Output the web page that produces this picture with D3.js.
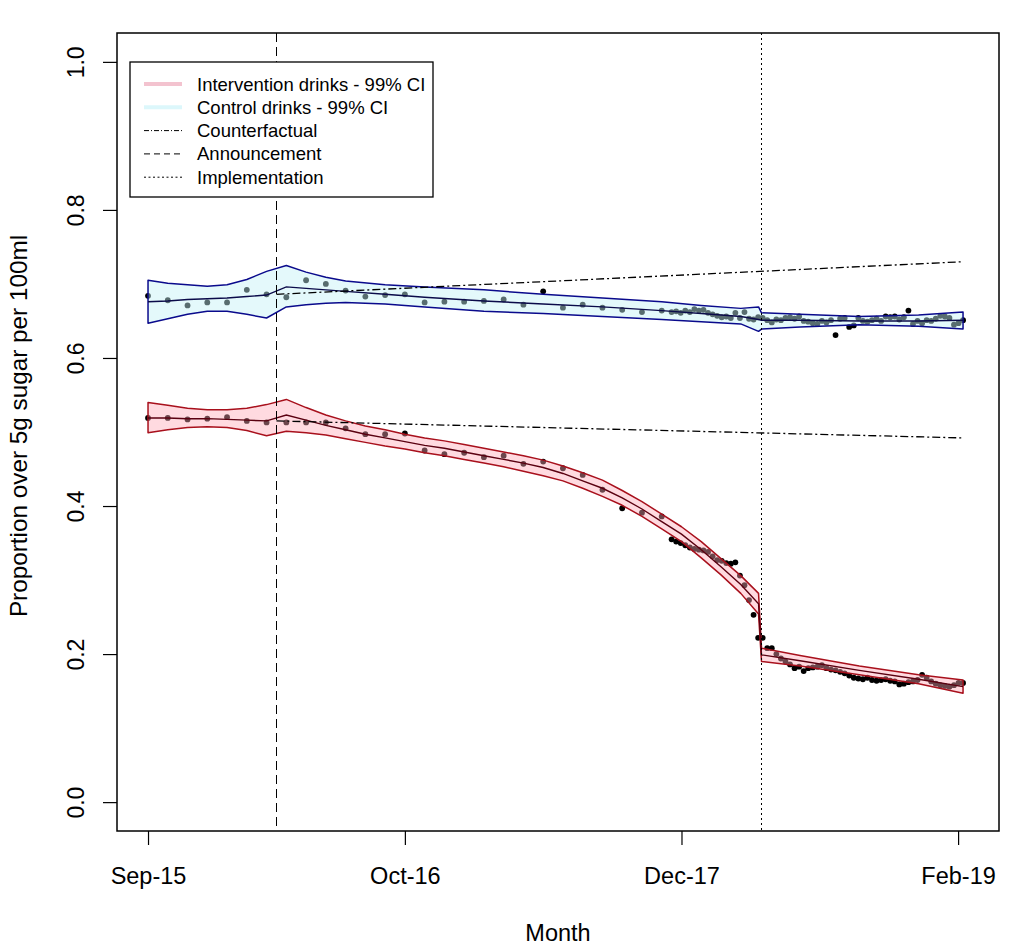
<!DOCTYPE html>
<html>
<head>
<meta charset="utf-8">
<script src="https://cdn.jsdelivr.net/npm/d3@7"></script>
<style>
  html, body { margin: 0; padding: 0; background: #fff; }
  svg { display: block; }
  text { font-family: "Liberation Sans", Arial, sans-serif; fill: #000; }
</style>
</head>
<body>
<svg id="chart" width="1024" height="950"></svg>
<script>
// ---------------- DATA ----------------
// time is expressed in months since Sep-2015
const xTickPos = [0, 13, 27, 41];
const xTickLabels = ["Sep-15", "Oct-16", "Dec-17", "Feb-19"];
const yTicks = [0.0, 0.2, 0.4, 0.6, 0.8, 1.0];

const announcementMonth = 6.48;
const implementationMonth = 31.03;

// monthly observations (Sep-15 .. Nov-17)
const monthlyTimes = d3.range(0, 27);
const ctrlMonthly = [0.684, 0.678, 0.671, 0.675, 0.675, 0.692, 0.686, 0.682, 0.705, 0.700,
  0.691, 0.683, 0.685, 0.686, 0.675, 0.676, 0.676, 0.677, 0.679, 0.672,
  0.690, 0.668, 0.672, 0.668, 0.665, 0.662, 0.664];
const intMonthly = [0.519, 0.519, 0.517, 0.518, 0.520, 0.515, 0.513, 0.513, 0.513, 0.513,
  0.505, 0.497, 0.497, 0.498, 0.475, 0.470, 0.472, 0.466, 0.468, 0.457,
  0.460, 0.451, 0.442, 0.422, 0.397, 0.391, 0.386];

// weekly observations (from mid-Nov-17 onwards)
const weeklyStart = 26.5, weeklyStep = 0.2305;
const ctrlWeekly = [0.662, 0.663, 0.661, 0.664, 0.662, 0.666, 0.664, 0.665, 0.661, 0.659,
  0.657, 0.655, 0.656, 0.654, 0.661, 0.654, 0.662, 0.653, 0.652, 0.655,
  0.654, 0.651, 0.648, 0.652, 0.651, 0.654, 0.655, 0.653, 0.656, 0.650,
  0.649, 0.647, 0.646, 0.650, 0.648, 0.651, 0.631, 0.653, 0.654, 0.642,
  0.644, 0.654, 0.650, 0.649, 0.651, 0.653, 0.650, 0.656, 0.655, 0.656,
  0.652, 0.655, 0.664, 0.646, 0.650, 0.647, 0.651, 0.650, 0.653, 0.657,
  0.656, 0.654, 0.645, 0.647, 0.651];
const intWeekly = [0.355, 0.352, 0.350, 0.347, 0.344, 0.342, 0.341, 0.340, 0.338, 0.332,
  0.327, 0.326, 0.323, 0.322, 0.324, 0.306, 0.293, 0.273, 0.253, 0.222,
  0.222, 0.208, 0.208, 0.200, 0.194, 0.190, 0.186, 0.181, 0.183, 0.177,
  0.181, 0.182, 0.183, 0.185, 0.181, 0.179, 0.178, 0.176, 0.174, 0.171,
  0.168, 0.167, 0.166, 0.168, 0.165, 0.164, 0.165, 0.166, 0.164, 0.163,
  0.159, 0.160, 0.162, 0.163, 0.165, 0.172, 0.168, 0.163, 0.160, 0.158,
  0.157, 0.156, 0.158, 0.161, 0.161];

// fitted model and 99% CI at knot times
const knotT   = [0, 1, 2, 3, 4, 5, 6, 7, 8, 9, 10, 12, 14, 17, 20, 23, 26, 28, 30, 30.9, 31.05, 33, 36, 39, 41.25];
const ctrlFit = [.676,.677,.679,.680,.681,.683,.685,.696,.694,.692,.690,.686,.682,.677,.673,.669,.664,.660,.656,.652,.651,.651,.650,.650,.651];
const ctrlLo  = [.647,.653,.659,.663,.663,.659,.654,.669,.672,.674,.675,.673,.669,.663,.660,.656,.652,.649,.646,.636,.639,.642,.645,.643,.639];
const ctrlHi  = [.705,.701,.699,.697,.699,.706,.717,.725,.716,.709,.704,.699,.696,.692,.686,.681,.676,.671,.667,.669,.661,.659,.656,.658,.662];

const intKnotT = [0, 1, 2, 3, 4, 5, 6, 7, 8, 9, 10, 11, 12, 13, 14, 15, 16, 17, 18, 19, 20, 21, 22, 23, 24, 25, 26, 27, 28, 29, 30, 30.9, 31.05, 33, 36, 39, 41.25];
const intFit = [.519,.519,.518,.518,.517,.516,.515,.523,.516,.509,.503,.497,.492,.487,.482,.478,.473,.468,.463,.458,.452,.444,.434,.424,.411,.396,.379,.362,.341,.318,.294,.268,.199,.191,.178,.166,.156];
const intLo  = [.499,.503,.506,.507,.506,.502,.495,.501,.499,.496,.491,.486,.481,.477,.472,.468,.463,.458,.453,.447,.441,.434,.424,.413,.401,.386,.369,.352,.330,.307,.282,.254,.190,.184,.172,.160,.147];
const intHi  = [.540,.536,.532,.530,.530,.532,.537,.544,.533,.523,.515,.508,.503,.497,.492,.488,.483,.478,.473,.468,.462,.454,.445,.435,.421,.406,.389,.372,.352,.329,.306,.282,.208,.198,.184,.172,.165];

// counterfactual trends (start at announcement, end at last observation)
const cfT = [6.5, 41.25];
const ctrlCF = [0.686, 0.730];
const intCF = [0.515, 0.492];

const legendLabels = ["Intervention drinks - 99% CI", "Control drinks - 99% CI", "Counterfactual", "Announcement", "Implementation"];

// ---------------- CHART ----------------
const svg = d3.select("#chart");
const L = 117, R = 999, T = 33, B = 831;
const x = d3.scaleLinear().domain([-1.57, 43.07]).range([L, R]);
const y = d3.scaleLinear().domain([-0.039, 1.039]).range([B, T]);

const weeklyTimes = d3.range(ctrlWeekly.length).map(i => weeklyStart + i * weeklyStep);
const obs = (times, vals) => times.map((t, i) => ({t, v: vals[i]}));
const ctrlObs = obs(monthlyTimes, ctrlMonthly).concat(obs(weeklyTimes, ctrlWeekly));
const intObs = obs(monthlyTimes, intMonthly).concat(obs(weeklyTimes, intWeekly));

const g = svg.append("g");

// points (black, later partly covered by translucent bands)
[ctrlObs, intObs].forEach(data => {
  g.append("g").selectAll("circle").data(data).join("circle")
    .attr("cx", d => x(d.t)).attr("cy", d => y(d.v)).attr("r", 2.9)
    .attr("fill", "#000");
});

function band(ts, lo, hi, fill, opacity, stroke) {
  const data = ts.map((t, i) => ({t, lo: lo[i], hi: hi[i]}));
  const area = d3.area().x(d => x(d.t)).y0(d => y(d.lo)).y1(d => y(d.hi));
  g.append("path").datum(data).attr("d", area)
    .attr("fill", fill).attr("fill-opacity", opacity)
    .attr("stroke", stroke).attr("stroke-width", 1.5).attr("stroke-linejoin", "round");
}
function line(ts, vals, stroke, width, dash) {
  const data = ts.map((t, i) => ({t, v: vals[i]}));
  const p = g.append("path").datum(data)
    .attr("d", d3.line().x(d => x(d.t)).y(d => y(d.v)))
    .attr("fill", "none").attr("stroke", stroke).attr("stroke-width", width);
  if (dash) p.attr("stroke-dasharray", dash);
}

band(knotT, ctrlLo, ctrlHi, "#c4f1f7", 0.45, "#0a0a8c");
line(knotT, ctrlFit, "#0b0b4a", 1.4);
band(intKnotT, intLo, intHi, "#ffa6b6", 0.42, "#a8101c");
line(intKnotT, intFit, "#5a0010", 1.4);

// counterfactuals
line(cfT, ctrlCF, "#000", 1.3, "8,3,2,3");
line(cfT, intCF, "#000", 1.3, "8,3,2,3");

// announcement & implementation (snapped to pixel centres for crisp lines)
const snap = v => Math.round(v) + 0.5;
g.append("line").attr("x1", snap(x(announcementMonth))).attr("x2", snap(x(announcementMonth)))
  .attr("y1", T).attr("y2", B).attr("stroke", "#000").attr("stroke-width", 1)
  .attr("stroke-dasharray", "9,5");
g.append("line").attr("x1", snap(x(implementationMonth))).attr("x2", snap(x(implementationMonth)))
  .attr("y1", T).attr("y2", B).attr("stroke", "#000").attr("stroke-width", 1)
  .attr("stroke-dasharray", "2,3");

// axes
const yAxis = svg.append("g").attr("transform", `translate(${L},0)`)
  .call(d3.axisLeft(y).tickValues(yTicks).tickFormat(d3.format(".1f")).tickSize(14).tickSizeOuter(0));
yAxis.selectAll("text").attr("x", 0).attr("dy", 0).attr("text-anchor", "middle")
  .attr("transform", "translate(-33,0) rotate(-90)")
  .style("font-size", "23px").style("font-family", '"Liberation Sans", Arial, sans-serif');
const xAxis = svg.append("g").attr("transform", `translate(0,${B})`)
  .call(d3.axisBottom(x).tickValues(xTickPos).tickFormat((d, i) => xTickLabels[i]).tickSize(14).tickSizeOuter(0));
xAxis.selectAll("text").attr("y", 53).attr("dy", 0)
  .style("font-size", "23.5px").style("font-family", '"Liberation Sans", Arial, sans-serif');
svg.selectAll(".domain").remove();
svg.selectAll(".tick line").attr("stroke", "#000").attr("stroke-width", 1.2);

// frame
svg.append("rect").attr("x", L).attr("y", T).attr("width", R - L).attr("height", B - T)
  .attr("fill", "none").attr("stroke", "#000").attr("stroke-width", 1.5);

// axis titles
svg.append("text").attr("x", (L + R) / 2).attr("y", 941).attr("text-anchor", "middle")
  .style("font-size", "23.5px").text("Month");
svg.append("text").attr("transform", "translate(27,426) rotate(-90)").attr("text-anchor", "middle")
  .style("font-size", "24.3px").text("Proportion over 5g sugar per 100ml");

// legend
const lg = svg.append("g");
lg.append("rect").attr("x", 130).attr("y", 62).attr("width", 303).attr("height", 135)
  .attr("fill", "#fff").attr("stroke", "#000").attr("stroke-width", 1.3);
const rows = [
  {stroke: "#f3c3cf", w: 4, dash: null},
  {stroke: "#dcf7fb", w: 4, dash: null},
  {stroke: "#000", w: 1, dash: "5,2,1,2"},
  {stroke: "#000", w: 1, dash: "6,4"},
  {stroke: "#000", w: 1, dash: "2,2.5"}
];
rows.forEach((r, i) => {
  const yy = 84 + i * 23.3;
  const l = lg.append("line").attr("x1", 144).attr("x2", 182).attr("y1", yy).attr("y2", yy)
    .attr("stroke", r.stroke).attr("stroke-width", r.w);
  if (r.dash) l.attr("stroke-dasharray", r.dash);
  lg.append("text").attr("x", 197).attr("y", yy + 6.5).style("font-size", "18.5px").text(legendLabels[i]);
});
</script>
</body>
</html>
